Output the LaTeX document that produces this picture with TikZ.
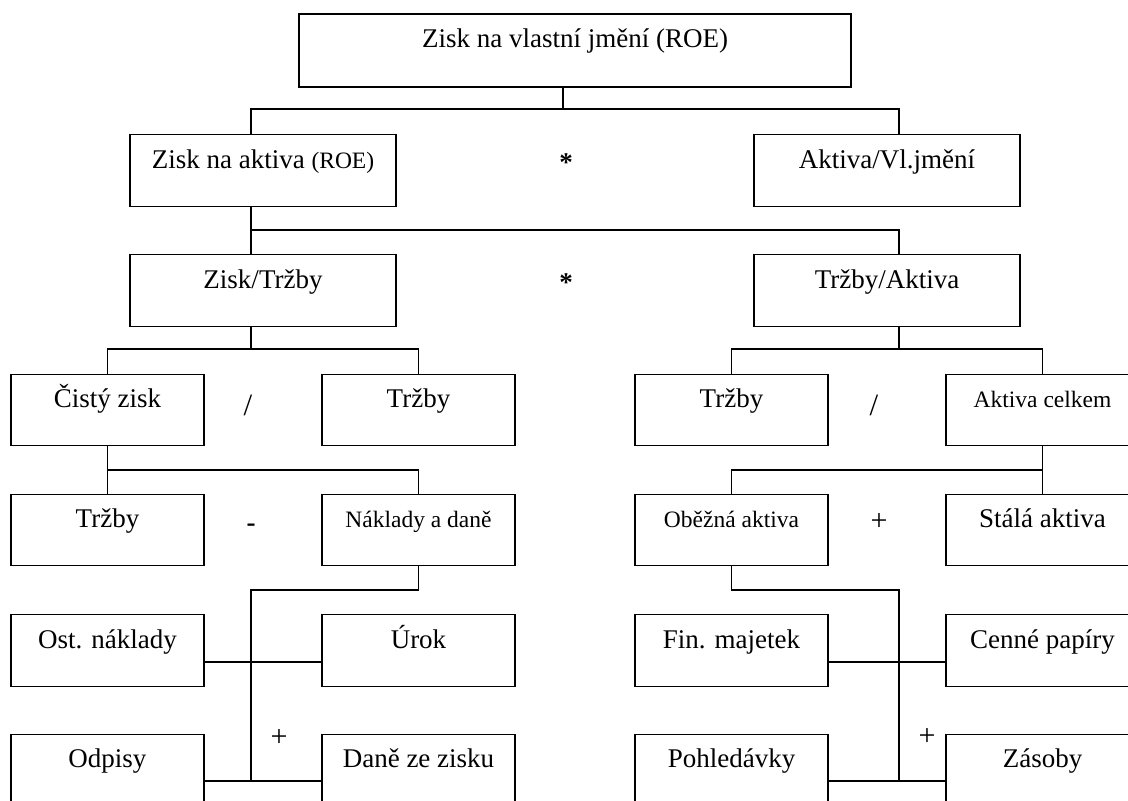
\documentclass[tikz,border=0pt]{standalone}
\usepackage{fontspec}
\setmainfont{Liberation Serif}
\newcommand\smallfnt{\fontsize{23.5}{28}\selectfont}
\begin{document}
\begin{tikzpicture}[x=1pt,y=-1pt,
  box/.style={draw, line width=1.1pt, inner sep=0pt, text height=33.5pt, text depth=38pt,
    font=\fontsize{27}{32}\selectfont},
  wn/.style={minimum width=193pt},
  ww/.style={minimum width=266pt},
  conn/.style={line width=1.1pt},
  op/.style={anchor=base, inner sep=0pt, font=\fontsize{27}{32}\selectfont},
  slashop/.style={anchor=base, inner sep=0pt, font=\fontsize{31}{36}\selectfont},
  plusop/.style={anchor=base, inner sep=0pt, font=\fontsize{30}{34}\selectfont}]
\useasboundingbox (0,0) rectangle (1128,801);
% level 1
\node[box, minimum width=552pt, text depth=39.5pt] (top) at (575,50.5) {Zisk na vlastní jmění (ROE)};
% level 2
\node[box, ww] (zna) at (263,170.5) {Zisk na aktiva {\smallfnt (ROE)}};
\node[box, ww] (avj) at (887,170.5) {Aktiva/Vl.jmění};
% level 3
\node[box, ww] (zt) at (263,290.5) {Zisk/Tržby};
\node[box, ww] (ta) at (887,290.5) {Tržby/Aktiva};
% level 4
\node[box, wn] (cz)  at (107.5,410) {Čistý zisk};
\node[box, wn] (tr1) at (418.5,410) {Tržby};
\node[box, wn] (tr2) at (731.5,410) {Tržby};
\node[box, wn] (ac)  at (1042.5,410) {\smallfnt Aktiva celkem};
% level 5
\node[box, wn] (tr3) at (107.5,530) {Tržby};
\node[box, wn] (nd)  at (418.5,530) {\smallfnt Náklady a daně};
\node[box, wn] (oa)  at (731.5,530) {\smallfnt Oběžná aktiva};
\node[box, wn] (sa)  at (1042.5,530) {Stálá aktiva};
% level 6
\node[box, wn] (on) at (107.5,650.5) {Ost. náklady};
\node[box, wn] (ur) at (418.5,650.5) {Úrok};
\node[box, wn] (fm) at (731.5,650.5) {Fin. majetek};
\node[box, wn] (cp) at (1042.5,650.5) {Cenné papíry};
% level 7
\node[box, wn] (od) at (107.5,770) {Odpisy};
\node[box, wn] (dz) at (418.5,770) {Daně ze zisku};
\node[box, wn] (po) at (731.5,770) {Pohledávky};
\node[box, wn] (zs) at (1042.5,770) {Zásoby};
% operators
\node[op] (op1) at (566,171) {\textbf{*}};
\node[op] (op2) at (566,291) {\textbf{*}};
\node[slashop] (op3) at (248,415) {/};
\node[slashop] (op4) at (874,415) {/};
\node[op] (op5) at (251,531) {\textbf{-}};
\node[plusop] (op6) at (879,530) {+};
\node[plusop] (op7) at (279,746) {+};
\node[plusop] (op8) at (927,745) {+};
% junctions
\coordinate (j1) at (563,109);
\coordinate (j2) at (251,230);
\coordinate (j3) at (251,349);
\coordinate (j4) at (899,349);
\coordinate (j5) at (107,470);
\coordinate (j6) at (251,590);
\coordinate (j7) at (899,590);
\coordinate (h6) at (0,662);
\coordinate (h7) at (0,781);
% connectors
\draw[conn] (top.south -| j1) -- (j1);
\draw[conn] (zna.north -| j2) |- (j1) -| (avj.north -| j7);
\draw[conn] (zna.south -| j2) -- (zt.north -| j2);
\draw[conn] (j2) -| (ta.north -| j4);
\draw[conn] (zt.south -| j3) -- (j3);
\draw[conn] (cz.north) |- (j3) -| (tr1.north);
\draw[conn] (ta.south -| j4) -- (j4);
\draw[conn] (tr2.north) |- (j4) -| (ac.north);
\draw[conn] (cz.south) -- (tr3.north);
\draw[conn] (cz.south |- j5) -| (nd.north);
\draw[conn] (ac.south) -- (sa.north);
\draw[conn] (ac.south |- j5) -| (oa.north);
\draw[conn] (nd.south) |- (j6) -- (j6 |- h7);
\draw[conn] (on.east |- h6) -- (ur.west |- h6);
\draw[conn] (od.east |- h7) -- (dz.west |- h7);
\draw[conn] (oa.south) |- (j7) -- (j7 |- h7);
\draw[conn] (fm.east |- h6) -- (cp.west |- h6);
\draw[conn] (po.east |- h7) -- (zs.west |- h7);
\end{tikzpicture}
\end{document}
